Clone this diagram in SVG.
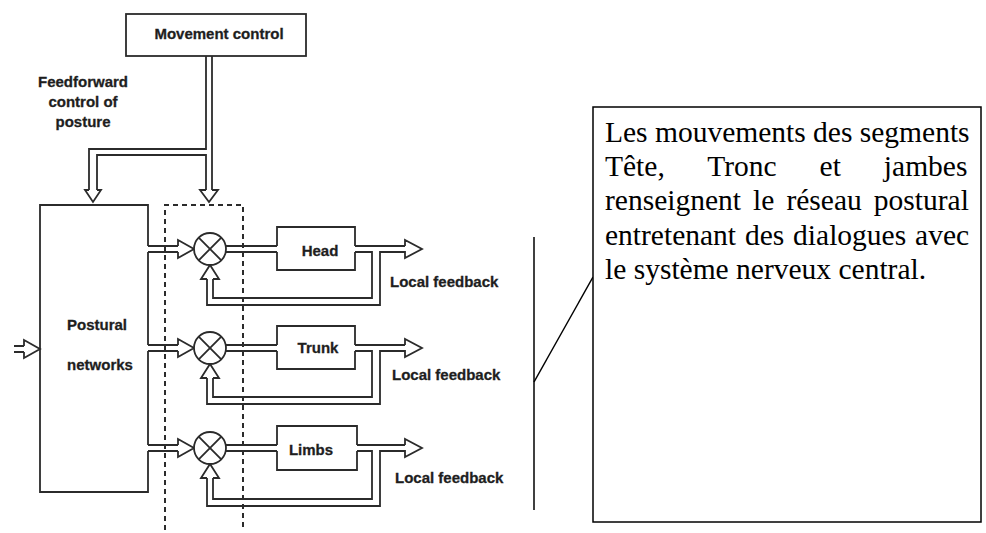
<svg xmlns="http://www.w3.org/2000/svg" width="986" height="533" viewBox="0 0 986 533">
<style>
.ln{fill:none;stroke:#2b2b2b;stroke-width:1.8;stroke-linejoin:miter}
.box{fill:#fff;stroke:#2b2b2b;stroke-width:1.8}
.dash{fill:none;stroke:#2b2b2b;stroke-width:2;stroke-dasharray:5 4}
.lbl{font-family:"Liberation Sans",Arial,sans-serif;font-weight:bold;font-size:15px;fill:#1e1e1e;stroke:#1e1e1e;stroke-width:0.3}
.note{font-family:"Liberation Serif","Times New Roman",serif;font-size:29.5px;fill:#000}
.blk{fill:none;stroke:#000;stroke-width:1.5}
</style>
<rect width="986" height="533" fill="#fff"/>

<g id="dashed-group">
<path class="dash" d="M165,530 V205 H243 V530"/>
</g>

<g id="connectors">
<!-- movement control feed -->
<path class="ln" d="M206,56 V149 H89 V190"/>
<path class="ln" d="M97,190 V155 H206 V190"/>
<path class="ln" d="M212,56 V190"/>
<path class="ln" d="M89,190 H85 L93,202 L101,190 H97"/>
<path class="ln" d="M206,190 H200 L209,202 L218,190 H212"/>
<!-- left input -->
<path class="ln" d="M14,346 H24 M14,352 H24 M24,346 V340 L40,349 L24,358 V352"/>
<!-- row 1 -->
<path class="ln" d="M148,246 H178 M148,252 H178 M178,246 V240 L194,249 L178,258 V252"/>
<path class="ln" d="M226,246 H277 M226,252 H277"/>
<path class="ln" d="M355,246 H405 M405,246 V240 L422,249 L405,258 V252 H380 V305 H207 V279"/>
<path class="ln" d="M355,252 H372 V298 H213 V279"/>
<path class="ln" d="M207,279 H201 L210,265 L219,279 H213"/>
<!-- row 2 -->
<path class="ln" d="M148,345 H178 M148,351 H178 M178,345 V339 L194,348 L178,357 V351"/>
<path class="ln" d="M226,345 H277 M226,351 H277"/>
<path class="ln" d="M355,345 H405 M405,345 V339 L422,348 L405,357 V351 H380 V404 H207 V378"/>
<path class="ln" d="M355,351 H372 V397 H213 V378"/>
<path class="ln" d="M207,378 H201 L210,364 L219,378 H213"/>
<!-- row 3 -->
<path class="ln" d="M148,445 H178 M148,451 H178 M178,445 V439 L194,448 L178,457 V451"/>
<path class="ln" d="M226,445 H277 M226,451 H277"/>
<path class="ln" d="M357,445 H405 M405,445 V439 L422,448 L405,457 V451 H380 V506 H207 V478"/>
<path class="ln" d="M357,451 H372 V499 H213 V478"/>
<path class="ln" d="M207,478 H201 L210,464 L219,478 H213"/>
<!-- bracket and callout -->
<path class="blk" d="M534,237 V510"/>
<path class="blk" d="M534,382 L593,277"/>
</g>

<g id="movement-control">
<rect class="box" x="126" y="14" width="180" height="42"/>
<text class="lbl" x="219" y="39" text-anchor="middle">Movement control</text>
</g>

<g id="feedforward-label">
<text class="lbl" x="83" y="87" text-anchor="middle" font-size="16">Feedforward</text>
<text class="lbl" x="83" y="107" text-anchor="middle" font-size="16">control of</text>
<text class="lbl" x="83" y="127" text-anchor="middle" font-size="16">posture</text>
</g>

<g id="postural-networks">
<path class="ln" d="M148,246 V205 H40 V492 H148 V451 M148,252 V345 M148,351 V445"/>
<text class="lbl" x="97" y="330" text-anchor="middle" font-size="16">Postural</text>
<text class="lbl" x="100" y="370" text-anchor="middle" font-size="16">networks</text>
</g>

<g id="sum-head">
<circle class="box" cx="210" cy="249" r="16"/>
<path class="ln" d="M198.7,237.7 L221.3,260.3 M221.3,237.7 L198.7,260.3"/>
</g>
<g id="sum-trunk">
<circle class="box" cx="210" cy="348" r="16"/>
<path class="ln" d="M198.7,336.7 L221.3,359.3 M221.3,336.7 L198.7,359.3"/>
</g>
<g id="sum-limbs">
<circle class="box" cx="210" cy="448" r="16"/>
<path class="ln" d="M198.7,436.7 L221.3,459.3 M221.3,436.7 L198.7,459.3"/>
</g>

<g id="head">
<path class="ln" d="M277,246 V227 H355 V246 M355,252 V270 H277 V252"/>
<text class="lbl" x="320" y="256" text-anchor="middle">Head</text>
</g>
<g id="trunk">
<path class="ln" d="M277,345 V326 H355 V345 M355,351 V369 H277 V351"/>
<text class="lbl" x="318" y="353" text-anchor="middle">Trunk</text>
</g>
<g id="limbs">
<path class="ln" d="M277,445 V426 H357 V445 M357,451 V470 H277 V451"/>
<text class="lbl" x="311" y="455" text-anchor="middle">Limbs</text>
</g>

<g id="feedback-labels">
<text class="lbl" x="390" y="287">Local feedback</text>
<text class="lbl" x="392" y="380">Local feedback</text>
<text class="lbl" x="395" y="483">Local feedback</text>
</g>

<g id="note">
<rect x="593" y="107" width="388" height="415" fill="#fff" stroke="#000" stroke-width="1.5"/>
<text class="note" x="605" y="142">Les mouvements des segments</text>
<text class="note" x="605" y="176" word-spacing="35.6">Tête, Tronc et jambes</text>
<text class="note" x="605" y="210" word-spacing="4.7">renseignent le réseau postural</text>
<text class="note" x="605" y="244.5" word-spacing="1.5">entretenant des dialogues avec</text>
<text class="note" x="605" y="279">le système nerveux central.</text>
</g>
</svg>
